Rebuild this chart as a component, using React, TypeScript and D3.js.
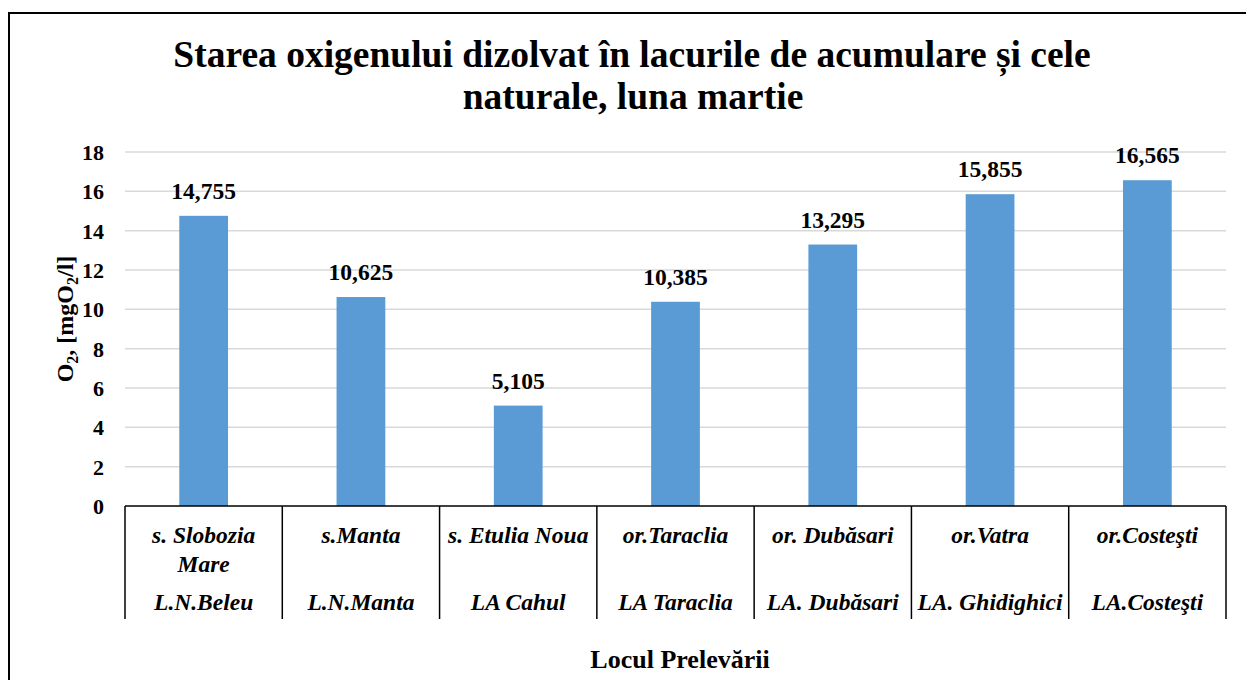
import React from "react";
import * as d3 from "d3";

const locations = ["s. Slobozia Mare", "s.Manta", "s. Etulia Noua", "or.Taraclia", "or. Dubăsari", "or.Vatra", "or.Costeşti"];
const locationLines = [["s. Slobozia", "Mare"], ["s.Manta"], ["s. Etulia Noua"], ["or.Taraclia"], ["or. Dubăsari"], ["or.Vatra"], ["or.Costeşti"]];
const lakes = ["L.N.Beleu", "L.N.Manta", "LA Cahul", "LA Taraclia", "LA. Dubăsari", "LA. Ghidighici", "LA.Costeşti"];
const values = [14.755, 10.625, 5.105, 10.385, 13.295, 15.855, 16.565];
const yTicks = [0, 2, 4, 6, 8, 10, 12, 14, 16, 18];

const W = 1246, H = 680;
const left = 125, right = 1226, top = 152, bottom = 506;
const font = "'Liberation Serif', 'Times New Roman', serif";

export default function App() {
  const x = d3.scaleBand<string>().domain(locations).range([left, right]).paddingInner(0).paddingOuter(0);
  const y = d3.scaleLinear().domain([0, 18]).range([bottom, top]);
  const bw = x.bandwidth() * 0.31;
  const fmt = (v: number) => d3.format(".3f")(v).replace(".", ",");
  return (
    <svg width={W} height={H} style={{ position: "absolute", left: 0, top: 0, background: "#fff", fontFamily: font }}>
      <rect x={9} y={13} width={1300} height={800} fill="none" stroke="#000" strokeWidth={2} />
      <text x={632} y={67} textAnchor="middle" fontSize={37.5} fontWeight="bold">Starea oxigenului dizolvat în lacurile de acumulare și cele</text>
      <text x={633} y={109} textAnchor="middle" fontSize={37.5} fontWeight="bold">naturale, luna martie</text>
      {yTicks.map(t => (
        <g key={t}>
          {t > 0 && <line x1={left} x2={right} y1={y(t)} y2={y(t)} stroke="#d9d9d9" strokeWidth={1.5} />}
          <text x={104} y={y(t) + 8} textAnchor="end" fontSize={22} fontWeight="bold">{t}</text>
        </g>
      ))}
      {locations.map((c, i) => (
        <rect key={c} x={x(c)! + (x.bandwidth() - bw) / 2} y={y(values[i])} width={bw} height={bottom - y(values[i])} fill="#5b9bd5" />
      ))}
      {locations.map((c, i) => (
        <text key={c} x={x(c)! + x.bandwidth() / 2} y={y(values[i]) - 17} textAnchor="middle" fontSize={23.5} fontWeight="bold">{fmt(values[i])}</text>
      ))}
      <line x1={left} x2={right} y1={bottom} y2={bottom} stroke="#000" strokeWidth={1.5} />
      {d3.range(locations.length + 1).map(i => {
        const xx = left + i * x.bandwidth();
        return <line key={i} x1={xx} x2={xx} y1={bottom} y2={619} stroke="#000" strokeWidth={1.5} />;
      })}
      {locations.map((c, i) => (
        <g key={c}>
          {locationLines[i].map((l, j) => (
            <text key={j} x={x(c)! + x.bandwidth() / 2} y={543 + j * 29} textAnchor="middle" fontSize={23.5} fontWeight="bold" fontStyle="italic">{l}</text>
          ))}
          <text x={x(c)! + x.bandwidth() / 2} y={610} textAnchor="middle" fontSize={23.5} fontWeight="bold" fontStyle="italic">{lakes[i]}</text>
        </g>
      ))}
      <text transform={`translate(73,${319}) rotate(-90)`} textAnchor="middle" fontSize={24} fontWeight="bold">
        O<tspan fontSize={16} dy={5}>2</tspan><tspan dy={-5}>, [mgO</tspan><tspan fontSize={16} dy={5}>2</tspan><tspan dy={-5}>/l]</tspan>
      </text>
      <text x={680} y={668} textAnchor="middle" fontSize={26} fontWeight="bold">Locul Prelevării</text>
    </svg>
  );
}
